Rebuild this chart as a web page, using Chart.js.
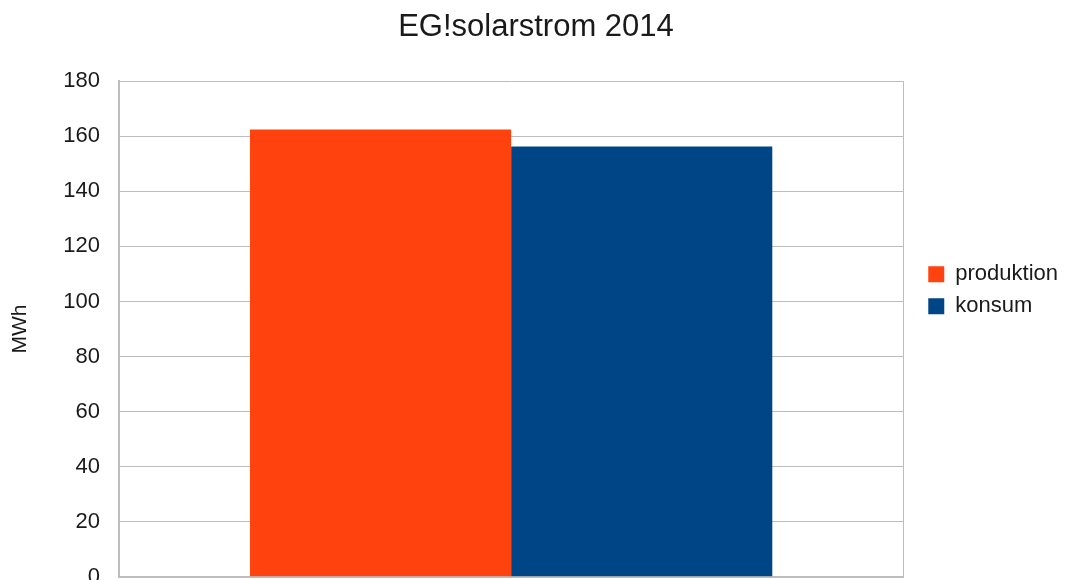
<!DOCTYPE html>
<html>
<head>
<meta charset="utf-8">
<title>EG!solarstrom 2014</title>
<script src="https://cdn.jsdelivr.net/npm/chart.js@4/dist/chart.umd.min.js"></script>
<style>
    html, body { margin: 0; padding: 0; background: #fff; }
    #wrap { width: 1068px; height: 580px; overflow: hidden; }
</style>
</head>
<body>
<div id="wrap">
    <canvas id="chart" width="1068" height="609"></canvas>
</div>
<script>
// Daten
const categories = [''];
const seriesNames = ['produktion', 'konsum'];
const produktion = [162.5];
const konsum = [156.3];
const seriesColors = ['#ff420e', '#004586'];
const yMin = 0;
const yMax = 180;
const yStep = 20;

const textColor = '#1a1a1a';
const gridColor = '#bdbdbd';
const fontFamily = "'Liberation Sans', Arial, sans-serif";

function buildChart() {
    const ctx = document.getElementById('chart').getContext('2d');
    const values = [produktion, konsum];

    new Chart(ctx, {
        type: 'bar',
        data: {
            labels: categories,
            datasets: seriesNames.map((name, i) => ({
                label: name,
                data: values[i],
                backgroundColor: seriesColors[i],
                borderWidth: 0,
                barPercentage: 1,
                categoryPercentage: 0.666
            }))
        },
        options: {
            responsive: false,
            animation: false,
            layout: { padding: { left: 4, right: 0, top: 0, bottom: 0 } },
            plugins: {
                title: {
                    display: true,
                    text: 'EG!solarstrom 2014',
                    color: textColor,
                    font: { family: fontFamily, size: 31, weight: 'normal' },
                    padding: { top: 9, bottom: 35 }
                },
                legend: {
                    position: 'right',
                    align: 'start',
                    fullSize: false,
                    // leerer Titel schiebt die Einträge nach unten
                    title: { display: true, text: '', font: { size: 10 }, padding: { top: 160, bottom: 0 } },
                    labels: {
                        color: textColor,
                        font: { family: fontFamily, size: 22 },
                        boxWidth: 16,
                        boxHeight: 16,
                        padding: 10
                    }
                },
                tooltip: { enabled: false }
            },
            scales: {
                x: {
                    grid: { display: true, color: gridColor, drawTicks: false, offset: true },
                    border: { display: true, color: gridColor, width: 2 },
                    ticks: { display: false },
                    afterFit: (scale) => { scale.height = 24; }
                },
                y: {
                    min: yMin,
                    max: yMax,
                    ticks: {
                        stepSize: yStep,
                        color: textColor,
                        font: { family: fontFamily, size: 22 },
                        padding: 19
                    },
                    grid: { color: gridColor, drawTicks: false },
                    border: { display: true, color: gridColor, width: 2 },
                    title: {
                        display: true,
                        text: 'MWh',
                        color: textColor,
                        font: { family: fontFamily, size: 21 },
                        padding: { top: 4, bottom: 4 }
                    },
                    afterFit: (scale) => { scale.width = 115; }
                },
                // Platzhalter zwischen Plotfläche und Legende
                y2: {
                    position: 'right',
                    display: true,
                    grid: { display: false, drawOnChartArea: false, drawTicks: false },
                    border: { display: false },
                    ticks: { display: false },
                    afterFit: (scale) => { scale.width = 15; }
                }
            }
        }
    });
}

document.addEventListener('DOMContentLoaded', buildChart);
</script>
</body>
</html>
